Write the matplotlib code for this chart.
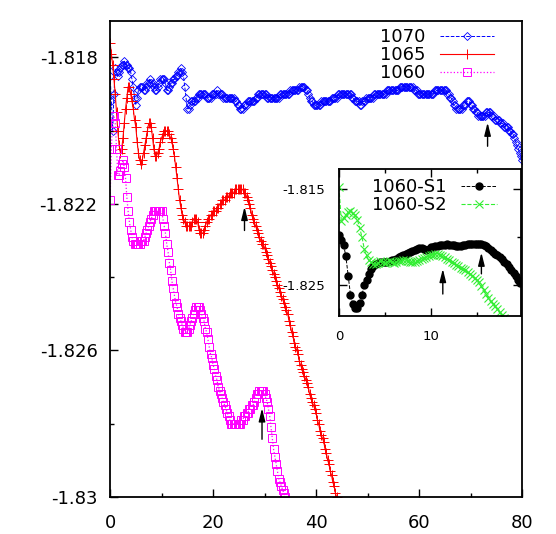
import numpy as np
import matplotlib
matplotlib.use('Agg')
from matplotlib import pyplot as plt

plt.rcParams['font.family'] = ['DejaVu Sans']
plt.rcParams['font.size'] = 13

# main panel, sampled every 0.25 in x (8 values per row = 2 units)
step_main = 0.25
e1070 = [-1.8185, -1.8192, -1.8200, -1.8190, -1.8183, -1.8184, -1.8185, -1.8184,
         -1.8183, -1.8182, -1.8182, -1.8181, -1.8182, -1.8182, -1.8183, -1.8183,
         -1.8184, -1.8186, -1.8188, -1.8191, -1.8193, -1.8191, -1.8189, -1.8188,
         -1.8188, -1.8188, -1.8189, -1.8189, -1.8188, -1.8187, -1.8187, -1.8186,
         -1.8187, -1.8187, -1.8188, -1.8189, -1.8189, -1.8188, -1.8187, -1.8186,
         -1.8186, -1.8186, -1.8186, -1.8187, -1.8189, -1.8189, -1.8188, -1.8187,
         -1.8187, -1.8186, -1.8186, -1.8185, -1.8185, -1.8184, -1.8184, -1.8183,
         -1.8184, -1.8185, -1.8188, -1.8191, -1.8194, -1.8194, -1.8193, -1.8192,
         -1.8192, -1.8192, -1.8192, -1.8191, -1.8191, -1.8190, -1.8190, -1.8190,
         -1.8190, -1.8190, -1.8190, -1.8191, -1.8191, -1.8191, -1.8191, -1.8190,
         -1.8190, -1.8190, -1.8190, -1.8189, -1.8190, -1.8190, -1.8190, -1.8190,
         -1.8191, -1.8191, -1.8191, -1.8191, -1.8191, -1.8191, -1.8191, -1.8191,
         -1.8191, -1.8192, -1.8192, -1.8193, -1.8193, -1.8194, -1.8194, -1.8194,
         -1.8193, -1.8193, -1.8193, -1.8192, -1.8192, -1.8192, -1.8192, -1.8192,
         -1.8192, -1.8191, -1.8191, -1.8190, -1.8190, -1.8190, -1.8190, -1.8190,
         -1.8190, -1.8190, -1.8191, -1.8191, -1.8191, -1.8191, -1.8191, -1.8191,
         -1.8191, -1.8191, -1.8191, -1.8191, -1.8190, -1.8190, -1.8190, -1.8190,
         -1.8190, -1.8190, -1.8190, -1.8190, -1.8189, -1.8189, -1.8189, -1.8189,
         -1.8189, -1.8189, -1.8189, -1.8188, -1.8188, -1.8188, -1.8188, -1.8188,
         -1.8189, -1.8189, -1.8190, -1.8191, -1.8192, -1.8192, -1.8193, -1.8193,
         -1.8193, -1.8193, -1.8193, -1.8193, -1.8192, -1.8192, -1.8192, -1.8192,
         -1.8192, -1.8192, -1.8192, -1.8192, -1.8191, -1.8191, -1.8191, -1.8191,
         -1.8191, -1.8190, -1.8190, -1.8190, -1.8190, -1.8190, -1.8190, -1.8190,
         -1.8190, -1.8190, -1.8190, -1.8190, -1.8191, -1.8191, -1.8192, -1.8192,
         -1.8192, -1.8192, -1.8193, -1.8193, -1.8192, -1.8192, -1.8192, -1.8191,
         -1.8191, -1.8191, -1.8191, -1.8191, -1.8191, -1.8190, -1.8190, -1.8190,
         -1.8190, -1.8190, -1.8190, -1.8190, -1.8190, -1.8190, -1.8190, -1.8189,
         -1.8189, -1.8189, -1.8189, -1.8189, -1.8189, -1.8189, -1.8189, -1.8189,
         -1.8189, -1.8188, -1.8188, -1.8188, -1.8188, -1.8188, -1.8188, -1.8188,
         -1.8188, -1.8188, -1.8188, -1.8188, -1.8189, -1.8189, -1.8189, -1.8190,
         -1.8190, -1.8190, -1.8190, -1.8190, -1.8190, -1.8190, -1.8190, -1.8190,
         -1.8190, -1.8190, -1.8190, -1.8190, -1.8189, -1.8189, -1.8189, -1.8189,
         -1.8189, -1.8189, -1.8189, -1.8189, -1.8189, -1.8189, -1.8190, -1.8190,
         -1.8191, -1.8191, -1.8192, -1.8193, -1.8193, -1.8194, -1.8194, -1.8194,
         -1.8194, -1.8194, -1.8193, -1.8193, -1.8193, -1.8192, -1.8192, -1.8192,
         -1.8193, -1.8193, -1.8194, -1.8194, -1.8195, -1.8195, -1.8196, -1.8196,
         -1.8196, -1.8196, -1.8196, -1.8196, -1.8195, -1.8195, -1.8195, -1.8195,
         -1.8196, -1.8196, -1.8196, -1.8197, -1.8197, -1.8197, -1.8197, -1.8198,
         -1.8198, -1.8198, -1.8199, -1.8199, -1.8199, -1.8199, -1.8200, -1.8200,
         -1.8201, -1.8201, -1.8202, -1.8203, -1.8204, -1.8205, -1.8206, -1.8207,
         -1.8208]
e1065 = [-1.8176, -1.8179, -1.8182, -1.8186, -1.8190, -1.8195, -1.8200, -1.8204,
         -1.8206, -1.8205, -1.8202, -1.8198, -1.8194, -1.8191, -1.8188, -1.8188,
         -1.8190, -1.8192, -1.8194, -1.8197, -1.8199, -1.8203, -1.8206, -1.8208,
         -1.8209, -1.8208, -1.8206, -1.8204, -1.8202, -1.8200, -1.8198, -1.8198,
         -1.8199, -1.8202, -1.8205, -1.8207, -1.8207, -1.8206, -1.8205, -1.8203,
         -1.8202, -1.8201, -1.8200, -1.8200, -1.8200, -1.8200, -1.8201, -1.8202,
         -1.8203, -1.8205, -1.8207, -1.8210, -1.8213, -1.8216, -1.8219, -1.8221,
         -1.8223, -1.8224, -1.8225, -1.8226, -1.8226, -1.8226, -1.8226, -1.8226,
         -1.8225, -1.8224, -1.8224, -1.8224, -1.8225, -1.8227, -1.8228, -1.8228,
         -1.8228, -1.8227, -1.8226, -1.8225, -1.8224, -1.8224, -1.8223, -1.8223,
         -1.8222, -1.8222, -1.8222, -1.8221, -1.8221, -1.8220, -1.8220, -1.8219,
         -1.8219, -1.8219, -1.8218, -1.8218, -1.8218, -1.8217, -1.8217, -1.8217,
         -1.8217, -1.8216, -1.8216, -1.8216, -1.8216, -1.8216, -1.8216, -1.8216,
         -1.8217, -1.8217, -1.8218, -1.8219, -1.8220, -1.8221, -1.8223, -1.8224,
         -1.8225, -1.8226, -1.8227, -1.8228, -1.8229, -1.8230, -1.8231, -1.8231,
         -1.8232, -1.8233, -1.8234, -1.8235, -1.8236, -1.8237, -1.8238, -1.8239,
         -1.8240, -1.8241, -1.8242, -1.8243, -1.8244, -1.8245, -1.8246, -1.8247,
         -1.8248, -1.8249, -1.8250, -1.8252, -1.8253, -1.8255, -1.8256, -1.8258,
         -1.8259, -1.8260, -1.8261, -1.8263, -1.8264, -1.8265, -1.8266, -1.8267,
         -1.8268, -1.8269, -1.8270, -1.8272, -1.8273, -1.8274, -1.8275, -1.8276,
         -1.8277, -1.8279, -1.8280, -1.8282, -1.8283, -1.8284, -1.8285, -1.8287,
         -1.8288, -1.8290, -1.8291, -1.8293, -1.8294, -1.8296, -1.8297, -1.8299,
         -1.8300]
e1060 = [-1.8219, -1.8205, -1.8196, -1.8196, -1.8198, -1.8205, -1.8212, -1.8212,
         -1.8211, -1.8209, -1.8208, -1.8210, -1.8213, -1.8218, -1.8222, -1.8225,
         -1.8227, -1.8229, -1.8230, -1.8231, -1.8231, -1.8231, -1.8231, -1.8231,
         -1.8230, -1.8230, -1.8230, -1.8229, -1.8228, -1.8227, -1.8226, -1.8225,
         -1.8224, -1.8223, -1.8222, -1.8222, -1.8222, -1.8222, -1.8222, -1.8222,
         -1.8222, -1.8224, -1.8226, -1.8228, -1.8231, -1.8233, -1.8236, -1.8238,
         -1.8241, -1.8243, -1.8245, -1.8247, -1.8248, -1.8250, -1.8251, -1.8252,
         -1.8253, -1.8254, -1.8255, -1.8255, -1.8255, -1.8254, -1.8253, -1.8252,
         -1.8251, -1.8250, -1.8249, -1.8248, -1.8248, -1.8248, -1.8249, -1.8250,
         -1.8251, -1.8252, -1.8254, -1.8255, -1.8257, -1.8259, -1.8261, -1.8262,
         -1.8264, -1.8265, -1.8267, -1.8268, -1.8270, -1.8271, -1.8272, -1.8273,
         -1.8274, -1.8275, -1.8276, -1.8277, -1.8278, -1.8279, -1.8280, -1.8280,
         -1.8280, -1.8280, -1.8280, -1.8280, -1.8280, -1.8280, -1.8279, -1.8279,
         -1.8278, -1.8278, -1.8277, -1.8277, -1.8276, -1.8276, -1.8275, -1.8275,
         -1.8274, -1.8273, -1.8272, -1.8272, -1.8271, -1.8271, -1.8271, -1.8271,
         -1.8272, -1.8273, -1.8274, -1.8276, -1.8278, -1.8281, -1.8284, -1.8287,
         -1.8289, -1.8291, -1.8293, -1.8295, -1.8296, -1.8297, -1.8298, -1.8299,
         -1.8300]

# inset, sampled every 0.25 in x
step_inset = 0.25
s1 = [-1.8198, -1.8203, -1.8208, -1.8220, -1.8240, -1.8260, -1.8270, -1.8274, -1.8274, -1.8268,
      -1.8260, -1.8250, -1.8244, -1.8238, -1.8233, -1.8230, -1.8228, -1.8227, -1.8226, -1.8226,
      -1.8226, -1.8226, -1.8225, -1.8224, -1.8224, -1.8223, -1.8221, -1.8220, -1.8218, -1.8217,
      -1.8216, -1.8215, -1.8214, -1.8213, -1.8212, -1.8211, -1.8211, -1.8212, -1.8213, -1.8212,
      -1.8210, -1.8210, -1.8209, -1.8209, -1.8208, -1.8208, -1.8208, -1.8207, -1.8208, -1.8208,
      -1.8208, -1.8209, -1.8209, -1.8209, -1.8208, -1.8208, -1.8207, -1.8207, -1.8207, -1.8207,
      -1.8207, -1.8207, -1.8207, -1.8208, -1.8209, -1.8211, -1.8213, -1.8215, -1.8217, -1.8219,
      -1.8221, -1.8223, -1.8226, -1.8228, -1.8231, -1.8234, -1.8237, -1.8240, -1.8244, -1.8248]
s2 = [-1.8148, -1.8183, -1.8180, -1.8177, -1.8174, -1.8173, -1.8175, -1.8177, -1.8182, -1.8190,
      -1.8200, -1.8212, -1.8219, -1.8224, -1.8226, -1.8228, -1.8228, -1.8227, -1.8225, -1.8226,
      -1.8227, -1.8226, -1.8225, -1.8226, -1.8227, -1.8226, -1.8225, -1.8225, -1.8224, -1.8224,
      -1.8225, -1.8226, -1.8226, -1.8226, -1.8225, -1.8224, -1.8223, -1.8222, -1.8221, -1.8220,
      -1.8219, -1.8218, -1.8217, -1.8217, -1.8218, -1.8220, -1.8221, -1.8223, -1.8224, -1.8226,
      -1.8227, -1.8229, -1.8230, -1.8232, -1.8233, -1.8234, -1.8236, -1.8238, -1.8240, -1.8242,
      -1.8244, -1.8247, -1.8251, -1.8255, -1.8259, -1.8263, -1.8266, -1.8269, -1.8272, -1.8275,
      -1.8278, -1.8281, -1.8284]

# arrows: x, tail y, head y
arrows_main = [(73.3, -1.8205, -1.8197), (26.1, -1.8228, -1.8220), (29.5, -1.8285, -1.8275)]
arrows_inset = [(11.3, -1.8262, -1.8230), (15.5, -1.8241, -1.8213)]


def style_ticks(ax, mirror):
    ax.tick_params(which='both', direction='in', top=mirror, right=mirror)
    ax.tick_params(which='major', length=6, width=1)
    ax.tick_params(which='minor', length=3, width=1)
    for s in ax.spines.values():
        s.set_linewidth(1.3)


fig = plt.figure(figsize=(5.56, 5.34), dpi=100)
ax = fig.add_axes([0.198, 0.0693, 0.741, 0.8917])

x = np.arange(len(e1070)) * step_main
ax.plot(x, e1070, color='#0000FF', ls='--', lw=0.7, marker='D', ms=4.0, mfc='none', mew=0.6, label='1070')
x = np.arange(len(e1065)) * step_main
ax.plot(x, e1065, color='#FF0000', ls='-', lw=0.8, marker='+', ms=7, mew=0.7, label='1065')
x = np.arange(len(e1060)) * step_main
ax.plot(x, e1060, color='#FF00FF', ls=':', lw=0.9, marker='s', ms=5.5, mfc='none', mew=0.7, label='1060')

for xa, y0, y1 in arrows_main:
    ax.annotate('', xy=(xa, y1), xytext=(xa, y0),
                arrowprops=dict(arrowstyle='-|>,head_length=0.6,head_width=0.15', color='k', lw=1))

ax.set_xlim(0, 80)
ax.set_ylim(-1.83, -1.817)
ax.set_xticks([0, 20, 40, 60, 80])
ax.set_xticks([10, 30, 50, 70], minor=True)
ax.set_yticks([-1.83, -1.826, -1.822, -1.818])
ax.set_yticklabels(['-1.83', '-1.826', '-1.822', '-1.818'])
ax.set_yticks([-1.828, -1.824, -1.82], minor=True)
style_ticks(ax, False)
ax.tick_params(axis='x', pad=12)
ax.tick_params(axis='y', pad=9)

ax.legend(loc='upper right', bbox_to_anchor=(0.932, 0.985), frameon=False, markerfirst=False,
          handlelength=3.0, handletextpad=0.8, labelspacing=0.0, borderpad=0, borderaxespad=0)

# inset
axi = fig.add_axes([0.6097, 0.4082, 0.328, 0.2753])
x = np.arange(len(s1)) * step_inset
axi.plot(x, s1, color='k', ls='--', lw=0.7, marker='o', ms=5, label='1060-S1')
x = np.arange(len(s2)) * step_inset
axi.plot(x, s2, color='#33EE33', ls='--', lw=0.8, marker='x', ms=6, mew=0.8, label='1060-S2')

for xa, y0, y1 in arrows_inset:
    axi.annotate('', xy=(xa, y1), xytext=(xa, y0),
                 arrowprops=dict(arrowstyle='-|>,head_length=0.6,head_width=0.15', color='k', lw=1))

axi.set_xlim(0, 19.85)
axi.set_ylim(-1.8282, -1.8129)
axi.set_xticks([0, 10])
axi.set_xticks([5, 15], minor=True)
axi.set_yticks([-1.825, -1.815])
axi.set_yticklabels(['-1.825', '-1.815'])
axi.set_yticks([-1.82], minor=True)
style_ticks(axi, True)
axi.tick_params(axis='both', pad=10, labelsize=9.5)

axi.legend(loc='upper right', bbox_to_anchor=(0.866, 0.94), frameon=False, markerfirst=False,
           handlelength=2.0, handletextpad=0.8, labelspacing=0.0, borderpad=0, borderaxespad=0)

plt.savefig('out.png', dpi=100)
